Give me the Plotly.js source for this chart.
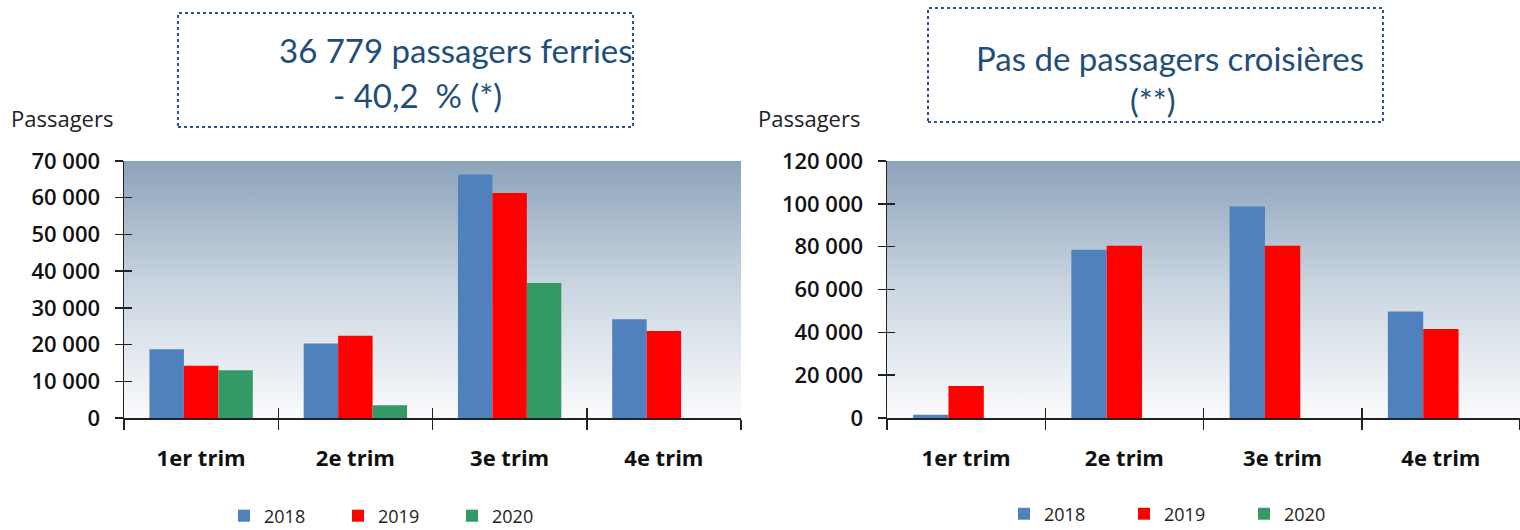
<!DOCTYPE html>
<html><head><meta charset="utf-8">
<script src="https://cdn.plot.ly/plotly-3.0.1.min.js"></script>
<style>html,body{margin:0;padding:0;background:#fff}#chart{width:1520px;height:530px}</style>
</head><body><div id="chart"></div>
<script>
// ---- data ----
const quarters = ['1er trim', '2e trim', '3e trim', '4e trim'];
const years = ['2018', '2019', '2020'];
const ferries2018 = [18700, 20300, 66300, 26900];
const ferries2019 = [14200, 22400, 61300, 23700];
const ferries2020 = [13000, 3450, 36779, null];
const cruise2018 = [1500, 78600, 98700, 49700];
const cruise2019 = [15000, 80400, 80400, 41600];
const cruise2020 = [0, 0, 0, 0];
const ferriesTitle1 = '36 779 passagers ferries';
const ferriesTitle2 = '- 40,2\u00a0 % (*)';
const cruiseTitle1 = 'Pas de passagers croisières';
const cruiseTitle2 = '(**)';
const yTitle = 'Passagers';

// ---- styles ----
const colors = ['#4F81BD', '#FF0000', '#339966'];
const W = 1520, H = 530;
const px = v => v / W;
const py = v => 1 - v / H;
const FONT = 'Open Sans, Liberation Sans, sans-serif';
const TFONT = 'Lato, Open Sans, sans-serif';

const gradSvg = '<svg xmlns="http://www.w3.org/2000/svg" width="100" height="100" viewBox="0 0 100 100" preserveAspectRatio="none">' +
  '<defs><linearGradient id="g" x1="0" y1="0" x2="0" y2="1">' +
  '<stop offset="0" stop-color="#8DA3BA"/><stop offset="0.5" stop-color="#CBD6E1"/><stop offset="1" stop-color="#FAFBFC"/>' +
  '</linearGradient></defs><rect x="0" y="0" width="100" height="100" fill="url(#g)"/></svg>';
const gradUrl = 'data:image/svg+xml;charset=utf-8,' + encodeURIComponent(gradSvg);

const left = [ferries2018, ferries2019, ferries2020];
const right = [cruise2018, cruise2019, cruise2020];
const traces = [];
years.forEach((yr, i) => {
  traces.push({type: 'bar', name: yr, x: quarters, y: left[i], xaxis: 'x', yaxis: 'y',
    marker: {color: colors[i], line: {width: 0}}, legend: 'legend', hoverinfo: 'x+y+name'});
});
years.forEach((yr, i) => {
  traces.push({type: 'bar', name: yr, x: quarters, y: right[i], xaxis: 'x2', yaxis: 'y2',
    marker: {color: colors[i], line: {width: 0}}, legend: 'legend2', hoverinfo: 'x+y+name'});
});
// empty helper traces carrying the overlay axes (inner half of the crossing ticks)
traces.push({type: 'scatter', mode: 'none', x: quarters, y: quarters.map(() => null),
  xaxis: 'x3', yaxis: 'y3', showlegend: false, hoverinfo: 'skip'});
traces.push({type: 'scatter', mode: 'none', x: quarters, y: quarters.map(() => null),
  xaxis: 'x4', yaxis: 'y4', showlegend: false, hoverinfo: 'skip'});

const yDom = [1 - 418 / H, 1 - 161 / H];
const xDomL = [px(124), px(741)], xDomR = [px(887), 1];
const xAxisCommon = {
  type: 'category', categoryarray: quarters, range: [-0.5, 3.5],
  showline: true, linecolor: '#222', linewidth: 1.5,
  ticks: 'outside', tickson: 'boundaries', ticklen: 10, tickcolor: '#222', tickwidth: 1.5,
  tickfont: {family: FONT, size: 22, color: '#111', weight: 700},
  ticklabelstandoff: 20, showgrid: false, zeroline: false, fixedrange: true
};
const yAxisCommon = {
  showline: true, linecolor: '#222', linewidth: 1.5, ticks: 'outside', ticklen: 8,
  tickcolor: '#222', tickwidth: 1.5, showgrid: false, zeroline: false,
  tickformat: ',d',
  tickfont: {family: FONT, size: 22, color: '#111', weight: 600},
  ticklabelstandoff: 10, fixedrange: true
};
const xInner = {
  type: 'category', categoryarray: quarters, range: [-0.5, 3.5], showline: false,
  ticks: 'inside', tickson: 'boundaries', ticklen: 10, tickcolor: '#222', tickwidth: 1.5,
  showticklabels: false, showgrid: false, zeroline: false, fixedrange: true
};
const yInner = {
  showline: false, ticks: 'inside', ticklen: 8, tickcolor: '#222', tickwidth: 1.5,
  showticklabels: false, showgrid: false, zeroline: false, fixedrange: true, side: 'left'
};

const layout = {
  width: W, height: H,
  margin: {l: 0, r: 0, t: 0, b: 0, autoexpand: false},
  paper_bgcolor: '#fff', plot_bgcolor: 'rgba(0,0,0,0)',
  separators: ', ',
  barmode: 'group', bargap: 0.33, bargroupgap: 0,
  showlegend: true,
  xaxis: Object.assign({}, xAxisCommon, {domain: xDomL, anchor: 'y'}),
  yaxis: Object.assign({}, yAxisCommon, {domain: yDom, range: [0, 70000], dtick: 10000, anchor: 'x'}),
  xaxis2: Object.assign({}, xAxisCommon, {domain: xDomR, anchor: 'y2'}),
  yaxis2: Object.assign({}, yAxisCommon, {domain: yDom, range: [0, 120000], dtick: 20000, anchor: 'x2'}),
  xaxis3: Object.assign({}, xInner, {overlaying: 'x', anchor: 'y3'}),
  yaxis3: Object.assign({}, yInner, {overlaying: 'y', anchor: 'x3', range: [0, 70000], dtick: 10000}),
  xaxis4: Object.assign({}, xInner, {overlaying: 'x2', anchor: 'y4'}),
  yaxis4: Object.assign({}, yInner, {overlaying: 'y2', anchor: 'x4', range: [0, 120000], dtick: 20000}),
  legend: {orientation: 'h', x: px(224), xanchor: 'left', y: py(516), yanchor: 'middle',
    font: {family: FONT, size: 18, color: '#222'}, entrywidth: 69, entrywidthmode: 'pixels',
    bgcolor: 'rgba(0,0,0,0)'},
  legend2: {orientation: 'h', x: px(1004), xanchor: 'left', y: py(514), yanchor: 'middle',
    font: {family: FONT, size: 18, color: '#222'}, entrywidth: 75, entrywidthmode: 'pixels',
    bgcolor: 'rgba(0,0,0,0)'},
  images: [
    {source: gradUrl, xref: 'x domain', yref: 'y domain', x: 0, y: 1, sizex: 1, sizey: 1,
     xanchor: 'left', yanchor: 'top', sizing: 'stretch', layer: 'below'},
    {source: gradUrl, xref: 'x2 domain', yref: 'y2 domain', x: 0, y: 1, sizex: 1, sizey: 1,
     xanchor: 'left', yanchor: 'top', sizing: 'stretch', layer: 'below'}
  ],
  shapes: [
    {type: 'rect', xref: 'paper', yref: 'paper', x0: px(178), x1: px(633), y0: py(127), y1: py(13),
     line: {color: '#2F5496', width: 2, dash: 'dot'}},
    {type: 'rect', xref: 'paper', yref: 'paper', x0: px(928), x1: px(1383), y0: py(122), y1: py(8),
     line: {color: '#2F5496', width: 2, dash: 'dot'}}
  ],
  annotations: [
    {text: ferriesTitle1, xref: 'paper', yref: 'paper', x: px(456), y: py(50), xanchor: 'center', yanchor: 'middle',
     showarrow: false, font: {family: TFONT, size: 33, color: '#1F4E79'}},
    {text: ferriesTitle2, xref: 'paper', yref: 'paper', x: px(417), y: py(95), xanchor: 'center', yanchor: 'middle',
     showarrow: false, font: {family: TFONT, size: 33, color: '#1F4E79'}},
    {text: cruiseTitle1, xref: 'paper', yref: 'paper', x: px(1170), y: py(58), xanchor: 'center', yanchor: 'middle',
     showarrow: false, font: {family: TFONT, size: 33, color: '#1F4E79'}},
    {text: cruiseTitle2, xref: 'paper', yref: 'paper', x: px(1153), y: py(100), xanchor: 'center', yanchor: 'middle',
     showarrow: false, font: {family: TFONT, size: 33, color: '#1F4E79'}},
    {text: yTitle, xref: 'paper', yref: 'paper', x: px(9), y: py(118), xanchor: 'left', yanchor: 'middle',
     showarrow: false, font: {family: FONT, size: 22, color: '#222'}},
    {text: yTitle, xref: 'paper', yref: 'paper', x: px(756), y: py(118), xanchor: 'left', yanchor: 'middle',
     showarrow: false, font: {family: FONT, size: 22, color: '#222'}}
  ]
};

Plotly.newPlot('chart', traces, layout, {staticPlot: true, displayModeBar: false});
</script>
</body></html>
